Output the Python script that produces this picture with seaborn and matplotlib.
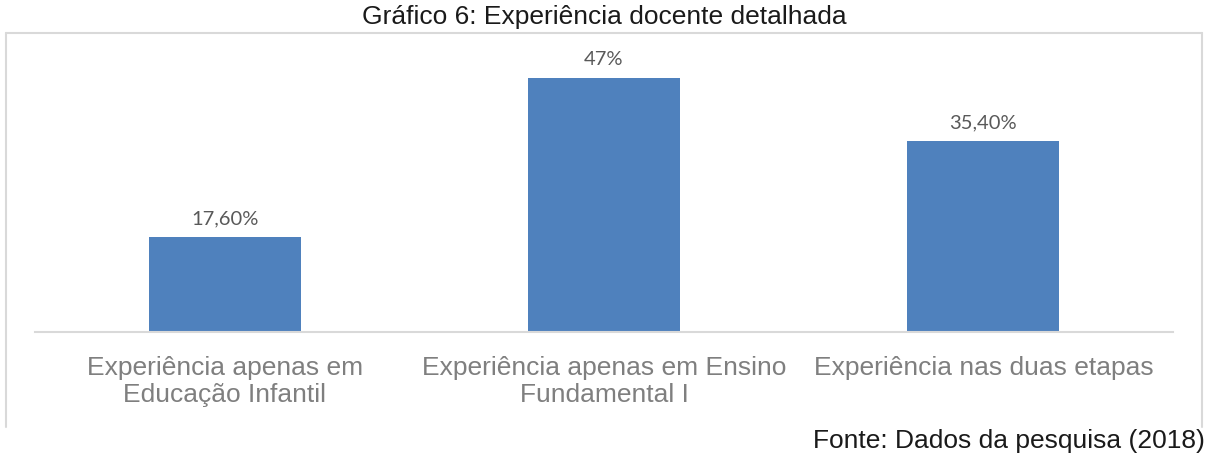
import pandas as pd
import seaborn as sns
import matplotlib.pyplot as plt
from matplotlib.lines import Line2D

# Data
categories = [
    'Experiência apenas em\nEducação Infantil',
    'Experiência apenas em Ensino\nFundamental I',
    'Experiência nas duas etapas',
]
values = [17.6, 47.0, 35.4]
value_labels = ['17,60%', '47%', '35,40%']

df = pd.DataFrame({'categoria': categories, 'percentual': values})

sns.set_style('white')
plt.rcParams['font.family'] = ['Liberation Sans', 'DejaVu Sans']

fig = plt.figure(figsize=(12.08, 4.59), dpi=100)
ax = fig.add_axes([35 / 1208, 1 - 332 / 459, (1173 - 35) / 1208, (332 - 62) / 459])

sns.barplot(
    data=df,
    x='categoria',
    y='percentual',
    color='#4F81BD',
    saturation=1,
    width=0.4,
    linewidth=0,
    ax=ax
)

# Percent labels on top of bars
for bars in ax.containers:
    ax.bar_label(
        bars,
        labels=value_labels,
        padding=7,
        fontsize=14.5,
        color='#595959',
        family=['Lato', 'DejaVu Sans']
    )

# Formatting
ax.set_ylim(0, 50)
ax.set_xlim(-0.5, 2.5)
ax.set_xlabel('')
ax.set_ylabel('')
ax.set_yticks([])
ax.tick_params(axis='x', length=0, pad=17, labelsize=19, labelcolor='#7F7F7F')
for side in ['top', 'left', 'right']:
    ax.spines[side].set_visible(False)
ax.spines['bottom'].set_color('#D9D9D9')
ax.spines['bottom'].set_linewidth(1.5)

# Chart frame (left, top, right)
frame_color = '#D9D9D9'
x0, x1 = 6 / 1208, 1202 / 1208
y_top, y_bot = 1 - 33 / 459, 1 - 427 / 459
fig.add_artist(Line2D([x0, x0], [y_bot, y_top], color=frame_color, lw=1.5))
fig.add_artist(Line2D([x0, x1], [y_top, y_top], color=frame_color, lw=1.5))
fig.add_artist(Line2D([x1, x1], [y_bot, y_top], color=frame_color, lw=1.5))

fig.text(604 / 1208, 1 - 17 / 459, 'Gráfico 6: Experiência docente detalhada',
         ha='center', va='center', fontsize=19, color='#1A1A1A')
fig.text(1205 / 1208, 1 - 441 / 459, 'Fonte: Dados da pesquisa (2018)',
         ha='right', va='center', fontsize=19, color='#1A1A1A')

fig.savefig('out.png', dpi=100, facecolor='white')
